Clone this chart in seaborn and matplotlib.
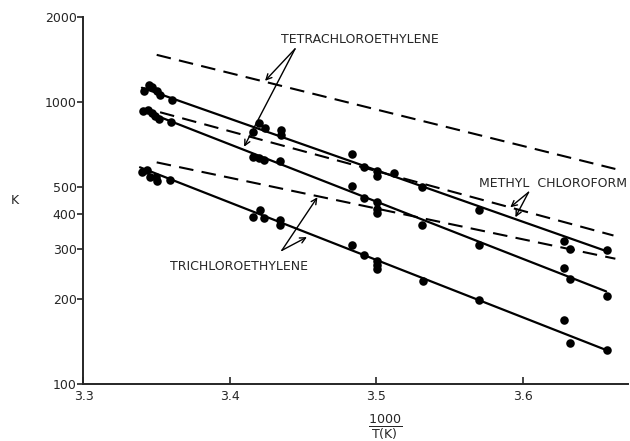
import matplotlib
matplotlib.use('Agg')
import matplotlib.pyplot as plt
import seaborn as sns

# === DATA ===
# methyl chloroform: measured points + fitted line (top solid)
mc_x = [3.3414, 3.3445, 3.3466, 3.3500, 3.3523, 3.3603, 3.4161, 3.4202, 3.4241, 3.4348,
        3.4348, 3.4833, 3.4919, 3.5004, 3.5004, 3.5122, 3.5312, 3.5703, 3.6284, 3.6320, 3.6576]
mc_y = [1088, 1150, 1130, 1094, 1056, 1014, 779, 838, 807, 794,
        763, 653, 586, 570, 548, 560, 501, 412, 321, 302, 298]
mc_fit_x = [3.3399, 3.6578]
mc_fit_y = [1121, 295]
mc_lit_x = [3.3523, 3.6620]
mc_lit_y = [918, 336]

# tetrachloroethylene (middle solid)
tetra_x = [3.3409, 3.3443, 3.3466, 3.3489, 3.3518, 3.3598, 3.4157, 3.4202, 3.4234, 3.4343,
           3.4833, 3.4919, 3.5004, 3.5004, 3.5004, 3.5312, 3.5703, 3.6280, 3.6325, 3.6576]
tetra_y = [924, 935, 916, 892, 869, 845, 639, 632, 622, 619,
           502, 455, 441, 418, 403, 365, 310, 258, 235, 205]
tetra_fit_x = [3.3399, 3.6570]
tetra_fit_y = [935, 213]
tetra_lit_x = [3.3500, 3.6633]
tetra_lit_y = [1466, 578]

# trichloroethylene (bottom solid)
tri_x = [3.3398, 3.3432, 3.3455, 3.3496, 3.3504, 3.3591, 3.4206, 3.4157, 3.4234, 3.4343,
         3.4343, 3.4833, 3.4919, 3.5004, 3.5004, 3.5004, 3.5319, 3.5703, 3.6280, 3.6325, 3.6576]
tri_y = [562, 574, 543, 540, 526, 529, 414, 392, 388, 382,
         367, 312, 287, 274, 265, 255, 232, 199, 168, 140, 132]
tri_fit_x = [3.3386, 3.6571]
tri_fit_y = [586, 132]
tri_lit_x = [3.3500, 3.6633]
tri_lit_y = [610, 278]

y_ticks = [100, 200, 300, 400, 500, 1000, 2000]
x_ticks = [3.3, 3.4, 3.5, 3.6]

# === PLOT ===
sns.set_style('ticks')
plt.rcParams['font.family'] = ['DejaVu Sans']

fig = plt.figure(figsize=(6.3, 4.41), dpi=100)
ax = fig.add_axes([0.1325, 0.129, 0.8645, 0.833])

for px, py in [(mc_x, mc_y), (tetra_x, tetra_y), (tri_x, tri_y)]:
    sns.scatterplot(x=px, y=py, ax=ax, color='black', s=38, edgecolor='black',
                    linewidth=0, zorder=3)

for fx, fy in [(mc_fit_x, mc_fit_y), (tetra_fit_x, tetra_fit_y), (tri_fit_x, tri_fit_y)]:
    sns.lineplot(x=fx, y=fy, ax=ax, color='black', linewidth=1.6)

for lx, ly in [(mc_lit_x, mc_lit_y), (tetra_lit_x, tetra_lit_y), (tri_lit_x, tri_lit_y)]:
    sns.lineplot(x=lx, y=ly, ax=ax, color='black', linewidth=1.5,
                 linestyle=(0, (7, 4)))

ax.set_yscale('log')
ax.set_xlim(3.3, 3.672)
ax.set_ylim(100, 2000)
ax.set_yticks(y_ticks)
ax.set_yticklabels([str(v) for v in y_ticks])
ax.yaxis.set_minor_locator(matplotlib.ticker.NullLocator())
ax.set_xticks(x_ticks)
ax.set_xticklabels([str(v) for v in x_ticks])
ax.tick_params(axis='y', direction='out', length=4, width=1.2, labelsize=9, pad=1)
ax.tick_params(axis='x', direction='in', length=5, width=1.2, labelsize=9, pad=4)
sns.despine(ax=ax)
for s in ['left', 'bottom']:
    ax.spines[s].set_linewidth(1.4)

# axis labels
fig.text(0.024, 0.545, 'K', fontsize=9, ha='center', va='center')
fig.text(0.611, 0.031, r'$\mathrm{\frac{1000}{T(K)}}$', fontsize=13,
         ha='center', va='center')

# annotations
arrow = dict(arrowstyle='->', color='black', lw=1, shrinkA=0, shrinkB=0)
ax.text(3.489, 1656, 'TETRACHLOROETHYLENE', fontsize=9, ha='center', va='center')
ax.annotate('', xy=(3.424, 1186), xytext=(3.4445, 1539), arrowprops=arrow)
ax.annotate('', xy=(3.4097, 693), xytext=(3.4445, 1539), arrowprops=arrow)

ax.text(3.6209, 513, 'METHYL  CHLOROFORM', fontsize=9, ha='center', va='center')
ax.annotate('', xy=(3.5915, 423), xytext=(3.604, 478), arrowprops=arrow)
ax.annotate('', xy=(3.595, 390), xytext=(3.604, 478), arrowprops=arrow)

ax.text(3.4064, 262, 'TRICHLOROETHYLENE', fontsize=9, ha='center', va='center')
ax.annotate('', xy=(3.4526, 331.6), xytext=(3.4355, 297.6), arrowprops=arrow)
ax.annotate('', xy=(3.4598, 459), xytext=(3.4355, 297.6), arrowprops=arrow)

fig.savefig('out.png', dpi=100)
plt.close(fig)
